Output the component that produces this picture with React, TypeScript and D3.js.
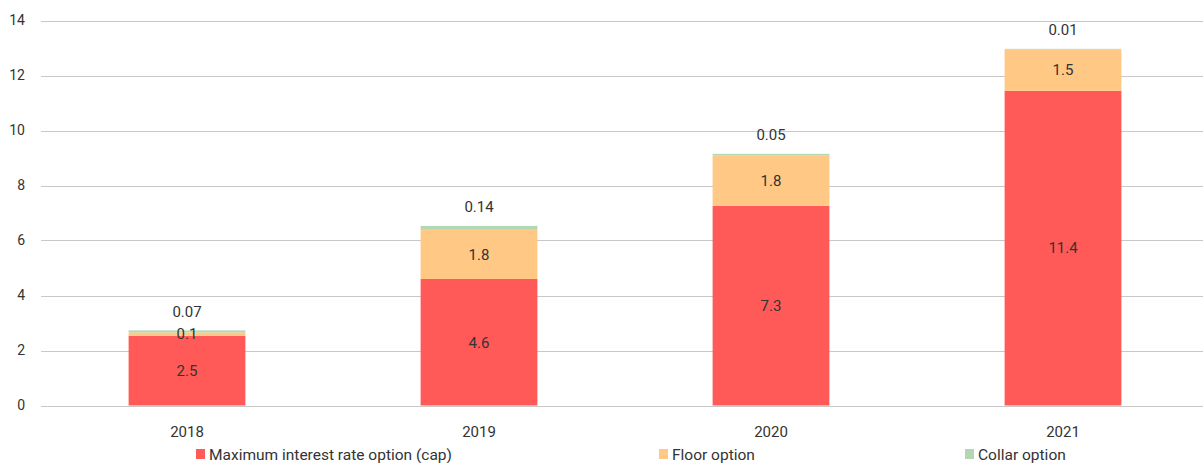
import React from "react";
import * as d3 from "d3";

const years = ["2018", "2019", "2020", "2021"];
const capValues = [2.53, 4.6, 7.26, 11.44];
const floorValues = [0.13, 1.79, 1.84, 1.52];
const collarValues = [0.07, 0.14, 0.05, 0.01];
const seriesNames = ["Maximum interest rate option (cap)", "Floor option", "Collar option"];
const seriesColors = ["#FF5A57", "#FFC985", "#B3D6B5"];
const yTicks = [0, 2, 4, 6, 8, 10, 12, 14];

const W = 1203;
const H = 463;
const FONT = "Roboto, sans-serif";
const TEXT = "#333333";

export default function App() {
  const x = d3.scaleBand<string>().domain(years).range([41, 1209]).paddingInner(0.6).paddingOuter(0.3);
  const y = d3.scaleLinear().domain([0, 14]).range([405.5, 20.5]);

  const rows = years.map((yr, i) => ({ year: yr, cap: capValues[i], floor: floorValues[i], collar: collarValues[i] }));
  const stack = d3.stack<any>().keys(["cap", "floor", "collar"])(rows);

  const legendItems = [
    { x: 196, name: seriesNames[0], color: seriesColors[0] },
    { x: 659, name: seriesNames[1], color: seriesColors[1] },
    { x: 965, name: seriesNames[2], color: seriesColors[2] },
  ];

  return (
    <div style={{ position: "absolute", left: 0, top: 0 }}>
      <svg width={W} height={H} style={{ display: "block", fontFamily: FONT }}>
        {yTicks.map((t) => (
          <g key={t}>
            <line x1={41} x2={W} y1={Math.round(y(t)) + 0.5} y2={Math.round(y(t)) + 0.5} stroke="#C8C8C8" strokeWidth={1} />
            <text x={25} y={y(t)} dy="0.35em" textAnchor="end" fontSize={14} fill={TEXT}>
              {t}
            </text>
          </g>
        ))}
        {stack.map((layer, li) => (
          <g key={li}>
            {layer.map((d, i) => (
              <rect
                key={i}
                x={x(years[i])}
                width={x.bandwidth()}
                y={y(d[1])}
                height={y(d[0]) - y(d[1])}
                fill={seriesColors[li]}
              />
            ))}
          </g>
        ))}
        {stack.map((layer, li) =>
          layer.map((d, i) => {
            const cx = (x(years[i]) as number) + x.bandwidth() / 2;
            const v = d[1] - d[0];
            const label = li === 2 ? v.toFixed(2) : v.toFixed(1);
            const cy = li === 2 ? y(d[1]) - 19 : (y(d[0]) + y(d[1])) / 2;
            return (
              <text key={`${li}-${i}`} x={cx} y={cy} dy="0.35em" textAnchor="middle" fontSize={15} fill={TEXT}>
                {label}
              </text>
            );
          })
        )}
        {years.map((yr) => (
          <text key={yr} x={(x(yr) as number) + x.bandwidth() / 2} y={432} dy="0.35em" textAnchor="middle" fontSize={15} fill={TEXT}>
            {yr}
          </text>
        ))}
        {legendItems.map((it) => (
          <g key={it.name}>
            <rect x={it.x} y={449} width={9} height={10} fill={it.color} />
            <text x={it.x + 13} y={455} dy="0.35em" fontSize={15.5} fill={TEXT}>
              {it.name}
            </text>
          </g>
        ))}
      </svg>
    </div>
  );
}
